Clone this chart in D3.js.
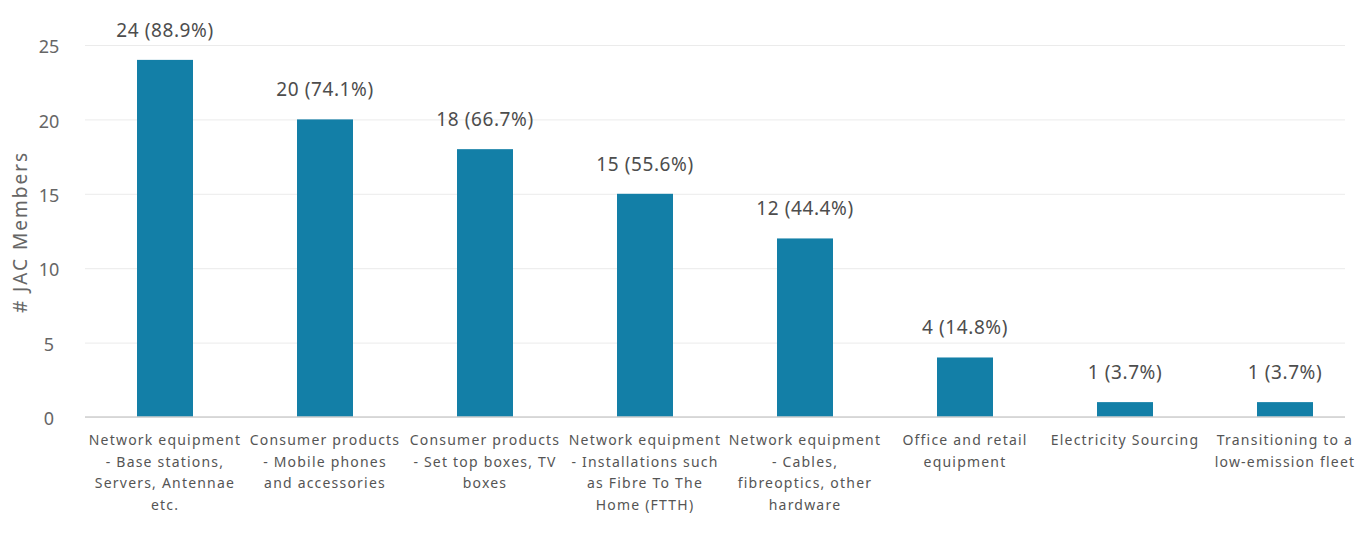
<!DOCTYPE html>
<html>
<head>
<meta charset="utf-8">
<script src="https://cdn.jsdelivr.net/npm/d3@7"></script>
<style>
  body { margin: 0; background: #fff; }
  text { font-family: "Noto Sans", Lato, sans-serif; }
</style>
</head>
<body>
<div id="chart"></div>
<script>
const categories = [
  ["Network equipment", "- Base stations,", "Servers, Antennae", "etc."],
  ["Consumer products", "- Mobile phones", "and accessories"],
  ["Consumer products", "- Set top boxes, TV", "boxes"],
  ["Network equipment", "- Installations such", "as Fibre To The", "Home (FTTH)"],
  ["Network equipment", "- Cables,", "fibreoptics, other", "hardware"],
  ["Office and retail", "equipment"],
  ["Electricity Sourcing"],
  ["Transitioning to a", "low-emission fleet"]
]
const counts = [24, 20, 18, 15, 12, 4, 1, 1]
const percents = ["88.9%", "74.1%", "66.7%", "55.6%", "44.4%", "14.8%", "3.7%", "3.7%"]
const yTicks = [0, 5, 10, 15, 20, 25]

const width = 1355, height = 539
const svg = d3.select("#chart").append("svg")
  .attr("width", width)
  .attr("height", height)

let x = d3.scaleBand()
  .domain(d3.range(counts.length))
  .range([85, 1365])
  .paddingInner(0.65)
  .paddingOuter(0.325)

let y = d3.scaleLinear()
  .domain([0, 25])
  .range([417, 45])

// grid lines
svg.append("g")
  .attr("transform", "translate(85,0)")
  .call(d3.axisLeft(y).tickValues(yTicks).tickSize(-1260).tickFormat(""))
  .call(g => {
    g.select(".domain").remove()
    g.selectAll(".tick line").attr("stroke", "#ebebeb").attr("stroke-width", 1)
  })

// y tick labels
svg.append("g")
  .attr("transform", "translate(49,2)")
  .call(d3.axisLeft(y).tickValues(yTicks).tickSize(0).tickPadding(0))
  .call(g => {
    g.select(".domain").remove()
    g.selectAll(".tick text").attr("font-size", 18).attr("fill", "#666")
      .attr("text-anchor", "middle")
  })

// bars
svg.append("g").selectAll("rect")
  .data(counts)
  .enter().append("rect")
  .attr("x", (d, i) => x(i))
  .attr("y", d => y(d))
  .attr("width", x.bandwidth())
  .attr("height", d => y(0) - y(d))
  .attr("fill", "#137fa7")

// baseline
svg.append("line")
  .attr("x1", 85).attr("x2", 1345)
  .attr("y1", y(0)).attr("y2", y(0))
  .attr("stroke", "#cfcfcf").attr("stroke-width", 1.5)

// value labels
svg.append("g").selectAll("text")
  .data(counts)
  .enter().append("text")
  .attr("x", (d, i) => x(i) + x.bandwidth() / 2)
  .attr("y", d => y(d) - 23)
  .attr("text-anchor", "middle")
  .attr("font-size", 19)
  .attr("letter-spacing", 0.6)
  .attr("fill", "#4d4d4d")
  .text((d, i) => d + " (" + percents[i] + ")")

// category labels
let gLabels = svg.append("g")
categories.forEach((lines, i) => {
  let t = gLabels.append("text")
    .attr("x", x(i) + x.bandwidth() / 2)
    .attr("y", 445)
    .attr("text-anchor", "middle")
    .attr("font-size", 14)
    .attr("letter-spacing", 1.2)
    .attr("fill", "#555")
  lines.forEach((l, j) => {
    t.append("tspan")
      .attr("x", x(i) + x.bandwidth() / 2)
      .attr("dy", j === 0 ? 0 : 21.5)
      .text(l)
  })
})

// y axis title
svg.append("text")
  .attr("transform", "translate(27,232) rotate(-90)")
  .attr("text-anchor", "middle")
  .attr("font-size", 19)
  .attr("letter-spacing", 2)
  .attr("fill", "#666")
  .text("# JAC Members")
</script>
</body>
</html>
